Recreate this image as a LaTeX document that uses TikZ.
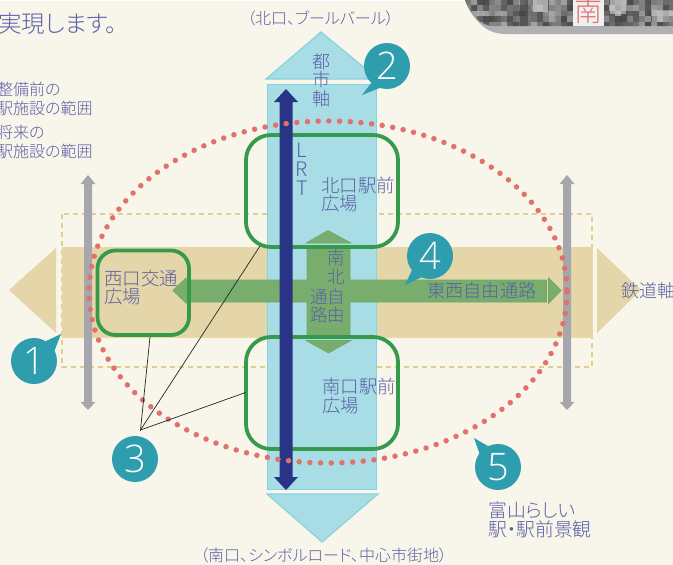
\documentclass[tikz,border=0pt]{standalone}
\usepackage{fontspec}
\setmainfont{Noto Sans CJK JP Light}
\newfontfamily\jp[RawFeature=+palt]{Noto Sans CJK JP Light}
\newfontfamily\numf{Open Sans Light}
\definecolor{bg}{HTML}{F8F5EB}
\definecolor{tan}{HTML}{E4D6A8}
\definecolor{tanline}{HTML}{E0CF8E}
\definecolor{sky}{HTML}{A9DDE5}
\definecolor{skyline}{HTML}{85D3DE}
\definecolor{grn}{HTML}{78AD6E}
\definecolor{grnline}{HTML}{6CAA66}
\definecolor{frame}{HTML}{369A4C}
\definecolor{navy}{HTML}{2A3487}
\definecolor{ashg}{HTML}{A6A7AC}
\definecolor{teal}{HTML}{2E9DAE}
\definecolor{dotred}{HTML}{E2706C}
\definecolor{ink}{HTML}{5A5FA6}
\tikzset{
 lbl/.style={inner sep=0pt,text=ink,font=\jp\fontsize{#1}{#1}\selectfont,anchor=west},
 stack/.style={inner sep=0pt,text=ink,align=center,anchor=north,font=\jp\fontsize{#1}{18.7}\selectfont},
 frm/.style={draw=frame,line width=3.8pt,rounded corners=#1},
 axis/.style={fill=sky,draw=skyline,line width=1.2pt},
 tanarrow/.style={fill=tan},
 grnshape/.style={fill=grn,draw=grnline,line width=.8pt},
 bubble/.style={circle,fill=teal,minimum size=46pt,inner sep=0pt,text=white,font=\numf\fontsize{38}{38}\selectfont},
 bubtail/.style={fill=teal},
 leader/.style={draw=black!85,line width=.7pt},
}
\begin{document}
\begin{tikzpicture}[x=1pt,y=-1pt]
\useasboundingbox (0,0) rectangle (673,565);
\fill[bg] (0,0) rectangle (673,565);
\fill[white] (0,0) rectangle (465,1);
% photo
\fill[ashg!90!white] (465,0) .. controls (473,20) and (486,34) .. (505,34) -- (673,34) -- (673,0) -- cycle;
\begin{scope}
\clip (465,0) .. controls (470,14) and (480,26) .. (494,26) -- (673,26) -- (673,0) -- cycle;
\fill[black!55] (465,0) rectangle (673,26);
\pgfmathsetseed{7}
\foreach \ix in {0,...,34}{
 \foreach \iy in {0,...,4}{
  \pgfmathtruncatemacro{\shade}{30+random(0,45)}
  \fill[black!\shade,opacity=.8] ({465+\ix*6},{\iy*5.4}) rectangle ({471+\ix*6+random(0,3)},{5.4+\iy*5.4});
 }
}
\fill[black!20,opacity=.7] (533,0) rectangle (548,12);
\fill[black!75,opacity=.6] (520,0) rectangle (528,26);
\fill[black!18,opacity=.6] (610,0) rectangle (626,14);
\fill[black!18,opacity=.5] (652,10) rectangle (673,22);
\end{scope}
\fill[black!6] (573,0) rectangle (604,26);
\node[inner sep=0pt,text=dotred,font=\jp\fontsize{28}{28}\selectfont] (minami) at (588.5,11) {南};
% tan band
\draw[tanline,line width=1.3pt,dash pattern=on 5pt off 4pt] (62,214) rectangle (592,367);
\fill[tan,draw=tanline!80,line width=.6pt] (62,247) rectangle (592,337);
\fill[tanarrow] (9,290) -- (56,248) -- (56,333) -- cycle;
\fill[tanarrow] (597,248) -- (641,290) -- (597,333) -- cycle;
% gray arrows
\foreach \cx in {88,567}{
 \fill[ashg] (\cx,175) -- (\cx+7.5,184) -- (\cx+4,184) -- (\cx+4,402) -- (\cx+7.5,402) -- (\cx,410) -- (\cx-7.5,402) -- (\cx-4,402) -- (\cx-4,184) -- (\cx-7.5,184) -- cycle;
}
% city axis
\draw[axis] (267.5,84.5) rectangle (376.5,489.5);
\draw[axis] (321,32) -- (378,79) -- (266,79) -- cycle;
\draw[axis] (267,494) -- (378,494) -- (322,542) -- cycle;
% green passages
\draw[grnshape] (186,280) -- (186,278) -- (173,290.5) -- (186,303) -- (186,302) -- (307,302) -- (307,337) -- (350,337) -- (350,302) -- (546.5,302) -- (546.5,280) -- (350,280) -- (350,247) -- (307,247) -- (307,280) -- cycle;
\draw[grnshape] (548.5,278) -- (561,290.5) -- (548.5,303.5) -- cycle;
\fill[grn,draw=grnline,line width=.6pt] (306,243) -- (328,230.5) -- (351,243) -- cycle;
\fill[grn,draw=grnline,line width=.6pt] (306,340.5) -- (351,340.5) -- (328.5,353) -- cycle;
% plaza frames
\draw[frm=25pt] (246,135) rectangle (398,247);
\draw[frm=25pt] (246,337) rectangle (398,449);
\draw[frm=18pt] (97.5,250.5) rectangle (189,335);
% LRT
\fill[navy] (286,89) -- (298,102) -- (292.5,102) -- (292.5,477) -- (298,477) -- (286,490) -- (274,477) -- (279.5,477) -- (279.5,102) -- (274,102) -- cycle;
% dotted ellipse
\draw[dotred,line width=5.5pt,line cap=round,dash pattern=on 0pt off 10.7pt] (328,292) ellipse [x radius=239,y radius=171];
% callouts
\node[bubble] (b2) at (387,66) {2};
\fill[bubtail] (372,82) -- (362,95) -- (382,87) -- cycle;
\node[bubble] (b1) at (34,361) {1};
\fill[bubtail] (44,342) -- (61,334) -- (54,352) -- cycle;
\node[bubble] (b3) at (135,459) {3};
\node[bubble] (b4) at (430,256) {4};
\fill[bubtail] (412,270) -- (405,285) -- (422,277) -- cycle;
\node[bubble] (b5) at (498,467) {5};
\fill[bubtail] (480,455) -- (474,438) -- (488,446) -- cycle;
% leaders
\coordinate (hub) at (140.5,430);
\coordinate (westp) at (150,337);
\coordinate (northp) at (260,246);
\coordinate (southp) at (245.5,392.5);
\draw[leader] (westp) -- (hub) -- (northp);
\draw[leader] (hub) -- (southp);
% labels
\node[lbl=23.5] (t0) at (-2,24) {実現します。};
\node[lbl=16] (t1) at (-3,89) {整備前の};
\node[lbl=16] (t2) at (-3,108) {駅施設の範囲};
\node[lbl=16] (t3) at (-3,132) {将来の};
\node[lbl=16] (t4) at (-3,151) {駅施設の範囲};
\node[lbl=16] (t5) at (247,18) {（北口、ブールバール）};
\node[stack=18] (t6) at (321,53) {都\\市\\軸};
\node[stack=20] (t9) at (302,143) {L\\R\\T};
\node[lbl=18.4] (t12) at (321,185) {北口駅前};
\node[lbl=18.4] (t13) at (321,204) {広場};
\node[lbl=18.4] (t14) at (322,386) {南口駅前};
\node[lbl=18.4] (t15) at (322,406) {広場};
\node[lbl=18.4] (t16) at (104,279) {西口交通};
\node[lbl=18.4] (t17) at (104,297) {広場};
\node[stack=17.5] (t18) at (336,250) {南\\北};
\node[lbl=17.5] (t20) at (310,297) {通自};
\node[lbl=17.5] (t21) at (310,315) {路由};
\node[lbl=18.2] (t22) at (427,291) {東西自由通路};
\node[lbl=18] (t23) at (621,291) {鉄道軸};
\node[lbl=16] (t24) at (200,555) {（南口、シンボルロード、中心市街地）};
\node[lbl=18.8] (t25) at (488,510) {富山らしい};
\node[lbl=18.8] (t26) at (488,529) {駅・駅前景観};
\end{tikzpicture}
\end{document}
